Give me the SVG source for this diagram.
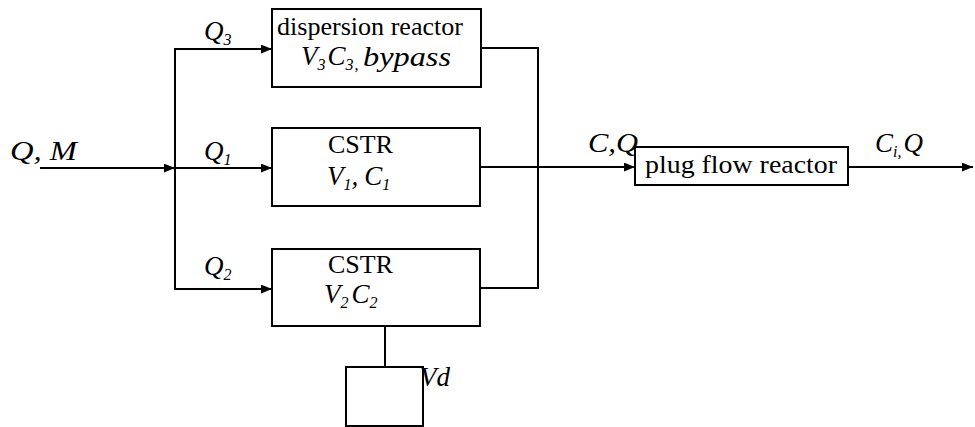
<svg xmlns="http://www.w3.org/2000/svg" width="975" height="427" viewBox="0 0 975 427">
<style>
  .box { fill: #fff; stroke: #000; stroke-width: 2; }
  .ln { fill: none; stroke: #000; stroke-width: 2; }
  .rm { font-family: "Liberation Serif", "Times New Roman", serif; font-size: 25px; fill: #000; }
  .it { font-family: "Liberation Serif", "Times New Roman", serif; font-style: italic; font-size: 27px; fill: #000; }
  .sb { font-size: 16px; }
</style>
<defs>
  <marker id="arr" viewBox="0 0 10 8" refX="10" refY="4" markerWidth="11" markerHeight="9" markerUnits="userSpaceOnUse" orient="auto">
    <path d="M0,0 L10,4 L0,8 Z" fill="#000"/>
  </marker>
</defs>
<rect width="975" height="427" fill="#fff"/>

<g id="connectors">
  <line class="ln" x1="40" y1="168" x2="175" y2="168" marker-end="url(#arr)"/>
  <line class="ln" x1="175" y1="48" x2="175" y2="290"/>
  <line class="ln" x1="174" y1="49" x2="272" y2="49" marker-end="url(#arr)"/>
  <line class="ln" x1="175" y1="168" x2="272" y2="168" marker-end="url(#arr)"/>
  <line class="ln" x1="174" y1="289" x2="272" y2="289" marker-end="url(#arr)"/>
  <polyline class="ln" points="481,48 538,48 538,288 480,288"/>
  <line class="ln" x1="480" y1="167" x2="635" y2="167" marker-end="url(#arr)"/>
  <line class="ln" x1="848" y1="167" x2="973" y2="167" marker-end="url(#arr)"/>
  <line class="ln" x1="385" y1="326" x2="385" y2="367"/>
</g>

<g id="label-QM">
  <text class="it" x="10" y="160" textLength="67" lengthAdjust="spacingAndGlyphs">Q, M</text>
</g>
<g id="label-Q3">
  <text class="it" x="204" y="40">Q<tspan class="sb" dy="5">3</tspan></text>
</g>
<g id="label-Q1">
  <text class="it" x="204" y="160">Q<tspan class="sb" dy="5">1</tspan></text>
</g>
<g id="label-Q2">
  <text class="it" x="204" y="275">Q<tspan class="sb" dy="5">2</tspan></text>
</g>

<g id="dispersion-reactor">
  <rect class="box" x="272" y="9" width="209" height="78"/>
  <text class="rm" x="277" y="35" textLength="186" lengthAdjust="spacingAndGlyphs">dispersion reactor</text>
  <text class="it" x="301" y="65" font-size="24">V<tspan class="sb" font-size="15" dy="5">3</tspan><tspan dx="2" dy="-5">C</tspan><tspan class="sb" font-size="15" dy="5">3</tspan><tspan class="sb" font-style="normal" dx="1">,</tspan></text>
  <text class="it" x="363" y="66" textLength="88" lengthAdjust="spacingAndGlyphs">bypass</text>
</g>

<g id="cstr1">
  <rect class="box" x="272" y="128" width="208" height="78"/>
  <text class="rm" x="328" y="153" textLength="65" lengthAdjust="spacingAndGlyphs">CSTR</text>
  <text class="it" x="327" y="185" font-size="25">V<tspan class="sb" dy="5">1</tspan><tspan dy="-5">,</tspan><tspan dx="6">C</tspan><tspan class="sb" dy="5">1</tspan></text>
</g>

<g id="cstr2">
  <rect class="box" x="272" y="249" width="208" height="77"/>
  <text class="rm" x="328" y="273" textLength="65" lengthAdjust="spacingAndGlyphs">CSTR</text>
  <text class="it" x="324" y="303" font-size="25">V<tspan class="sb" dy="5">2</tspan><tspan dx="3" dy="-5">C</tspan><tspan class="sb" dy="5">2</tspan></text>
</g>

<g id="dead-volume">
  <rect class="box" x="346" y="367" width="77" height="59"/>
  <text class="it" x="420" y="386" font-size="29">Vd</text>
</g>

<g id="label-CQ">
  <text class="it" x="588" y="152" font-size="27" textLength="50" lengthAdjust="spacingAndGlyphs">C,Q</text>
</g>

<g id="plug-flow-reactor">
  <rect class="box" x="635" y="147" width="213" height="38"/>
  <text class="rm" x="645" y="173" textLength="192" lengthAdjust="spacingAndGlyphs">plug flow reactor</text>
</g>

<g id="label-CiQ">
  <text class="it" x="875" y="152">C<tspan class="sb" dy="5">i</tspan><tspan class="sb">,</tspan><tspan dx="2" dy="-5">Q</tspan></text>
</g>
</svg>
